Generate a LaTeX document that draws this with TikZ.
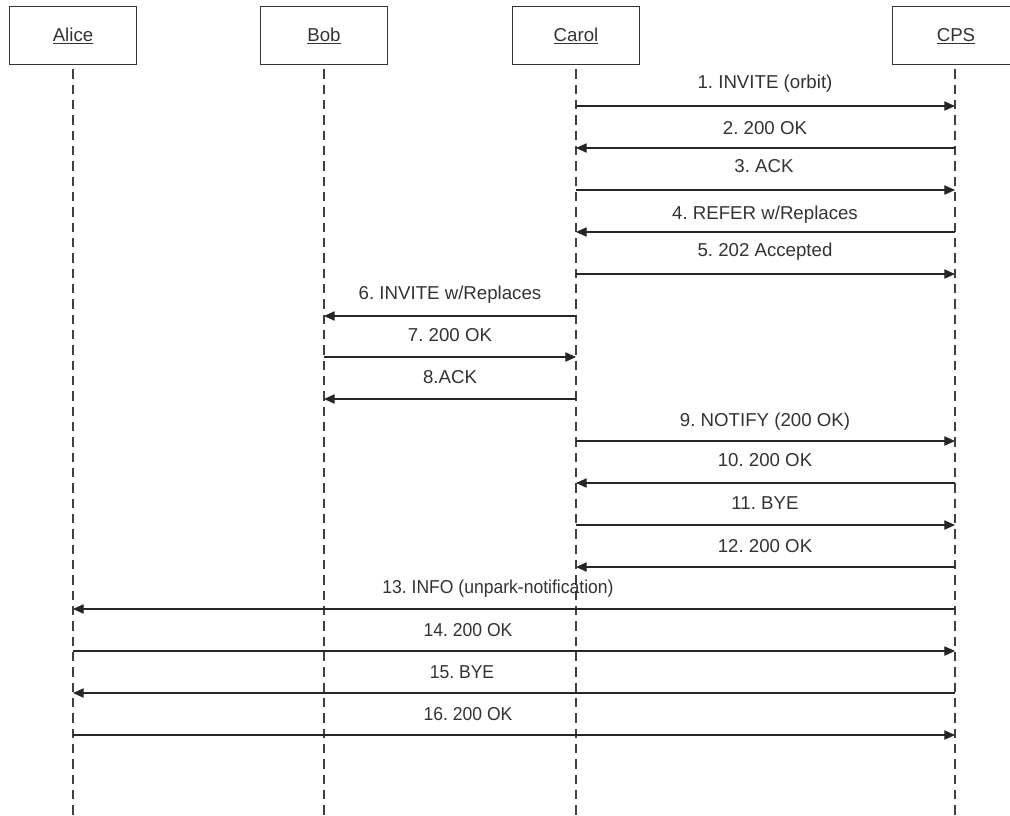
\documentclass[tikz,border=0pt]{standalone}
\usepackage{fontspec}
\setmainfont{Liberation Sans}
\usetikzlibrary{arrows.meta}
\frenchspacing
\begin{document}
\begin{tikzpicture}[x=0.75pt,y=-0.75pt,
  actor/.style={draw=black!80, line width=0.8pt, minimum width=95pt, minimum height=44pt, inner sep=0pt, text height=10pt, text depth=1.5pt, font=\fontsize{14}{16}\selectfont, text=black!80},
  life/.style={draw=black!75, line width=0.8pt, dash pattern=on 7pt off 4.5pt},
  msg/.style={draw=black!85, line width=0.8pt, -{Triangle[length=8pt,width=7pt]}},
  lbl/.style={font=\fontsize{14}{16}\selectfont, text=black!80, inner sep=0pt, anchor=base}]
\useasboundingbox (0,0) rectangle (1010,815);
\fill[white] (0,0) rectangle (1010,815);
% actors
\node[actor] (alice) at (73,35.5) {\underline{Alice}};
\node[actor] (bob) at (324,35.5) {\underline{Bob}};
\node[actor] (carol) at (576,35.5) {\underline{Carol}};
\node[actor] (cps) at (956,35.5) {\underline{CPS}};
% lifeline ends
\coordinate (aliceE) at (73,815);
\coordinate (bobE) at (324,815);
\coordinate (carolE) at (576,815);
\coordinate (cpsE) at (955,815);
\draw[life] (alice.south) ++(0,4) -- (aliceE);
\draw[life] (bob.south) ++(0,4) -- (bobE);
\draw[life] (carol.south) ++(0,4) -- (carolE);
\draw[life] ([xshift=-0.75pt]cps.south) ++(0,4) -- (cpsE);
% row coordinates on lifelines
\foreach \n/\y in {1/106,2/148,3/190,4/232,5/274,6/316,7/357,8/399,9/441,10/483,11/525,12/567,13/609,14/651,15/693,16/735}{
  \coordinate (A\n) at (73,\y);
  \coordinate (B\n) at (324,\y);
  \coordinate (C\n) at (576,\y);
  \coordinate (P\n) at (955,\y);
}
% messages
\draw[msg] (C1) -- (P1);
\draw[msg] (P2) -- (C2);
\draw[msg] (C3) -- (P3);
\draw[msg] (P4) -- (C4);
\draw[msg] (C5) -- (P5);
\draw[msg] (C6) -- (B6);
\draw[msg] (B7) -- (C7);
\draw[msg] (C8) -- (B8);
\draw[msg] (C9) -- (P9);
\draw[msg] (P10) -- (C10);
\draw[msg] (C11) -- (P11);
\draw[msg] (P12) -- (C12);
\draw[msg] (P13) -- (A13);
\draw[msg] (A14) -- (P14);
\draw[msg] (P15) -- (A15);
\draw[msg] (A16) -- (P16);
% labels
\node[lbl] (l1) at (765,88.5) {1. INVITE (orbit)};
\node[lbl] (l2) at (765,134) {2. 200 OK};
\node[lbl] (l3) at (764,172) {3. ACK};
\node[lbl] (l4) at (765,219) {4. REFER w/Replaces};
\node[lbl] (l5) at (765,256) {5. 202 Accepted};
\node[lbl] (l6) at (450,299) {6. INVITE w/Replaces};
\node[lbl] (l7) at (450,341) {7. 200 OK};
\node[lbl] (l8) at (450,383) {8.ACK};
\node[lbl] (l9) at (765,426) {9. NOTIFY (200 OK)};
\node[lbl] (l10) at (765,466) {10. 200 OK};
\node[lbl] (l11) at (765,509) {11. BYE};
\node[lbl] (l12) at (765,552) {12. 200 OK};
\node[lbl, xscale=0.94] (l13) at (498,593) {13. INFO (unpark-notification)};
\node[lbl, xscale=0.94] (l14) at (468,636) {14. 200 OK};
\node[lbl, xscale=0.94] (l15) at (462,678) {15. BYE};
\node[lbl, xscale=0.94] (l16) at (468,720) {16. 200 OK};
\end{tikzpicture}
\end{document}
